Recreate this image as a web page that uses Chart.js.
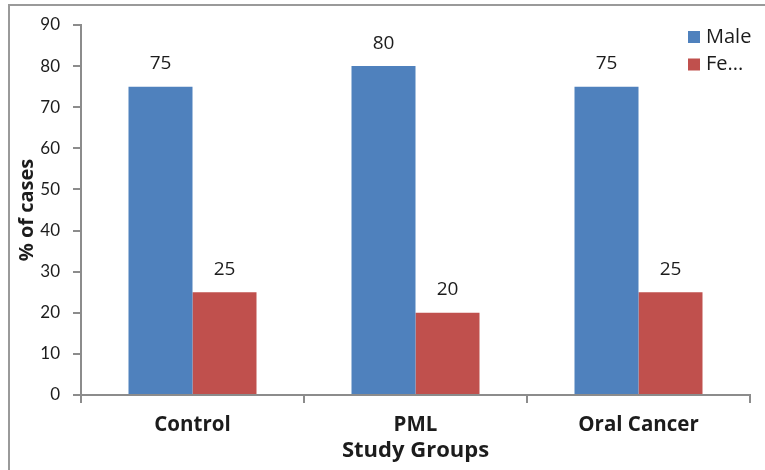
<!DOCTYPE html>
<html>
<head>
<meta charset="utf-8">
<script src="https://cdn.jsdelivr.net/npm/chart.js@4.4.1/dist/chart.umd.min.js"></script>
<style>
  html, body { margin: 0; padding: 0; background: #ffffff; }
  #wrap { width: 765px; height: 470px; }
</style>
</head>
<body>
<div id="wrap"><canvas id="c" width="765" height="470"></canvas></div>
<script>
// Study groups and sex distribution (% of cases)
const groups = ['Control', 'PML', 'Oral Cancer'];
const seriesNames = ['Male', 'Female'];
const legendText = ['Male', 'Fe...'];
const maleValues = [75, 80, 75];
const femaleValues = [25, 20, 25];
const yTicks = [0, 10, 20, 30, 40, 50, 60, 70, 80, 90];

const NUM_FONT = 'Lato, "Open Sans", sans-serif';
const FONT = '"Open Sans", Lato, sans-serif';
const TEXT = '#1c1c1c';
const AXIS = '#8c8c8c';

// Outer frame around the figure
const framePlugin = {
  id: 'frame',
  beforeDraw(chart) {
    const ctx = chart.ctx;
    ctx.save();
    ctx.fillStyle = '#ffffff';
    ctx.fillRect(0, 0, chart.width, chart.height);
    ctx.strokeStyle = '#9a9a9a';
    ctx.lineWidth = 2;
    ctx.strokeRect(9, 5, chart.width + 20, chart.height + 20);
    ctx.restore();
  }
};

// Value labels above each bar
const valueLabels = {
  id: 'valueLabels',
  afterDatasetsDraw(chart) {
    const ctx = chart.ctx;
    ctx.save();
    ctx.font = '19px ' + FONT;
    ctx.fillStyle = TEXT;
    ctx.textAlign = 'center';
    ctx.textBaseline = 'middle';
    chart.data.datasets.forEach((ds, i) => {
      chart.getDatasetMeta(i).data.forEach((bar, j) => {
        ctx.fillText(String(ds.data[j]), bar.x, bar.y - 23);
      });
    });
    ctx.restore();
  }
};

// Legend drawn inside the top-right corner of the plot
const cornerLegend = {
  id: 'cornerLegend',
  afterDraw(chart) {
    const ctx = chart.ctx;
    ctx.save();
    ctx.font = '20px ' + FONT;
    ctx.textBaseline = 'middle';
    ctx.textAlign = 'left';
    chart.data.datasets.forEach((ds, i) => {
      const cy = 37 + i * 27.5;
      ctx.fillStyle = ds.backgroundColor;
      ctx.fillRect(688, cy - 6, 12, 12);
      ctx.fillStyle = TEXT;
      ctx.fillText(legendText[i], 706, cy);
    });
    ctx.restore();
  }
};

new Chart(document.getElementById('c'), {
  type: 'bar',
  data: {
    labels: groups,
    datasets: [
      { label: seriesNames[0], data: maleValues, backgroundColor: '#4F81BD' },
      { label: seriesNames[1], data: femaleValues, backgroundColor: '#C0504D' }
    ]
  },
  options: {
    responsive: false,
    animation: false,
    devicePixelRatio: 1,
    layout: { padding: { left: 0, right: 15, top: 25, bottom: 0 } },
    datasets: { bar: { categoryPercentage: 0.574, barPercentage: 1.0 } },
    plugins: {
      legend: { display: false },
      tooltip: { enabled: false }
    },
    scales: {
      x: {
        grid: { drawOnChartArea: false, tickLength: 8, tickColor: AXIS, lineWidth: 2, offset: true },
        border: { color: AXIS, width: 2 },
        ticks: { color: TEXT, font: { family: FONT, size: 20.5, weight: 'bold' }, padding: 10, maxRotation: 0 },
        title: {
          display: true, text: 'Study Groups', color: TEXT,
          font: { family: FONT, size: 22, weight: 'bold' },
          padding: { top: 0, bottom: 6 }
        },
        afterFit(scale) { scale.height = 75; }
      },
      y: {
        min: 0, max: 90,
        afterBuildTicks(scale) { scale.ticks = yTicks.map(v => ({ value: v })); },
        grid: { drawOnChartArea: false, tickLength: 8, tickColor: AXIS, lineWidth: 2 },
        border: { color: AXIS, width: 2 },
        ticks: { color: TEXT, font: { family: NUM_FONT, size: 17 }, padding: 13 },
        title: {
          display: true, text: '% of cases', color: TEXT,
          font: { family: FONT, size: 20, weight: 'bold' },
          padding: { top: 15, bottom: 0 }
        },
        afterFit(scale) { scale.width = 81; }
      }
    }
  },
  plugins: [framePlugin, valueLabels, cornerLegend]
});
</script>
</body>
</html>
